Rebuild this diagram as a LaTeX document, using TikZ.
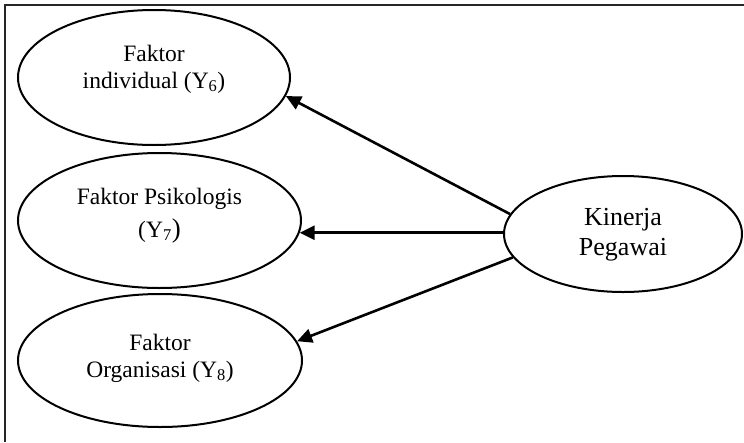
\documentclass[tikz,border=0pt]{standalone}
\usepackage{fontspec}
\setmainfont{Liberation Serif}
\usetikzlibrary{shapes.geometric,arrows.meta}
\begin{document}
\begin{tikzpicture}[x=1pt,y=-1pt,
  latent/.style={draw, ellipse, line width=2pt, inner sep=0pt},
  caption/.style={align=center, inner sep=0pt},
  link/.style={line width=2.6pt, -{Triangle[length=15pt,width=14pt]}},
  frame/.style={line width=2pt, black!85}]
  \useasboundingbox (0,0) rectangle (744,442);

  % open frame: top and left edges only
  \coordinate (tl) at (5,5);
  \coordinate (tr) at (744,5);
  \coordinate (bl) at (5,442);
  \draw[frame] (tr) -- (tl) -- (bl);

  % factor ellipses
  \node[latent, minimum width=272pt, minimum height=135pt] (e1) at (154,77.5) {};
  \node[latent, minimum width=283pt, minimum height=135pt] (e2) at (159.5,220.5) {};
  \node[latent, minimum width=284pt, minimum height=133pt] (e3) at (160,360.5) {};
  \node[latent, minimum width=238pt, minimum height=116pt] (k) at (623,234) {};

  % texts (base anchor sits on the last line)
  \node[caption, anchor=base, font=\fontsize{23.5pt}{27pt}\selectfont] (t1) at (154,88)
    {Faktor\\individual (Y\textsubscript{6})};
  \node[caption, anchor=base, font=\fontsize{23.5pt}{33pt}\selectfont] (t2) at (159.5,237)
    {Faktor Psikologis\\(Y\textsubscript{7}{\fontsize{27pt}{27pt}\selectfont)}};
  \node[caption, anchor=base, font=\fontsize{23.5pt}{27pt}\selectfont] (t3) at (160,377)
    {Faktor\\Organisasi (Y\textsubscript{8})};
  \node[caption, anchor=base, font=\fontsize{26pt}{30pt}\selectfont] (tk) at (623,255)
    {Kinerja\\Pegawai};

  % paths from Kinerja Pegawai to each factor
  \draw[link] (k.170.5) -- (e1.-8.6);
  \draw[link] (k.west |- e2.-5.5) -- (e2.-5.5);
  \draw[link] (k.192.7) -- (e3.8.6);
\end{tikzpicture}
\end{document}
